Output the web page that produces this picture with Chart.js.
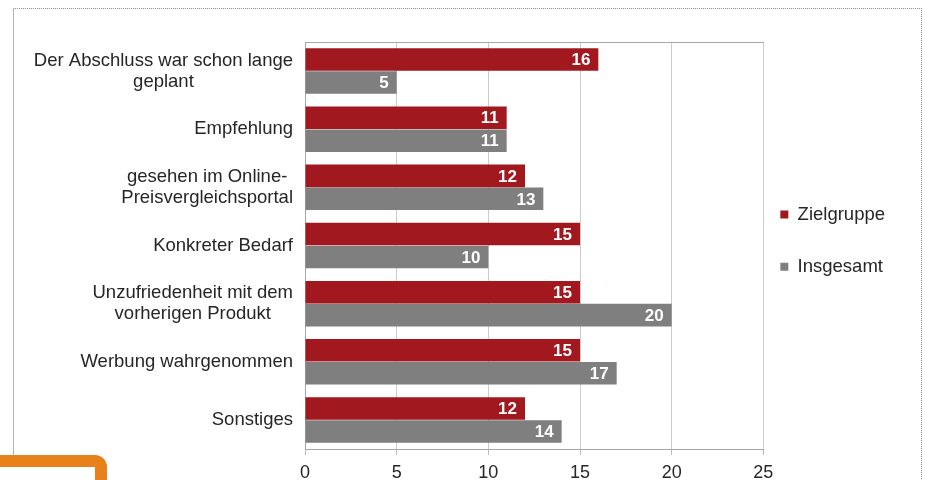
<!DOCTYPE html>
<html><head><meta charset="utf-8">
<script src="https://cdn.jsdelivr.net/npm/chart.js@4.4.1/dist/chart.umd.min.js"></script>
<style>
html,body{margin:0;padding:0;background:#fff;overflow:hidden;}
#wrap{position:relative;width:926px;height:480px;overflow:hidden;}
#frame{position:absolute;left:13px;top:8px;width:907px;height:520px;border-top:1px dotted #8a8a8a;border-right:1px dotted #8a8a8a;border-left:1px solid #b4b4b4;}
#c{position:absolute;left:0;top:0;}
#badge{position:absolute;left:-20px;top:455px;width:103px;height:60px;border:12px solid #E8801C;border-radius:12px;background:#fff;}
</style></head><body>
<div id="wrap"><div id="frame"></div><canvas id="c" width="926" height="480"></canvas><div id="badge"></div></div>
<script>
const categories = [
  ["Der Abschluss war schon lange", "geplant"],
  "Empfehlung",
  ["gesehen im Online-", "Preisvergleichsportal"],
  "Konkreter Bedarf",
  ["Unzufriedenheit mit dem", "vorherigen Produkt"],
  "Werbung wahrgenommen",
  "Sonstiges"
];
const seriesNames = ["Zielgruppe", "Insgesamt"];
const zielgruppe = [16, 11, 12, 15, 15, 15, 12];
const insgesamt = [5, 11, 13, 10, 20, 17, 14];
const xTicks = [0, 5, 10, 15, 20, 25];

const FAMILY = '"Liberation Sans", Arial, sans-serif';
const TEXT = '#262626';
const AXIS = '#a6a6a6';

const catLabelPlugin = {
  id: 'catLabels',
  afterDraw(chart) {
    const ctx = chart.ctx, ys = chart.scales.y;
    ctx.save();
    ctx.font = '18.5px ' + FAMILY;
    ctx.fillStyle = TEXT;
    ctx.textBaseline = 'middle';
    ctx.textAlign = 'center';
    categories.forEach((lab, i) => {
      const lines = Array.isArray(lab) ? lab : [lab];
      const w = Math.max(...lines.map(l => ctx.measureText(l).width));
      const cx = ys.right - 12 - w / 2;
      const cy = ys.getPixelForValue(i);
      lines.forEach((l, j) => ctx.fillText(l, cx, cy + (j - (lines.length - 1) / 2) * 21));
    });
    ctx.restore();
  }
};

const valueLabelPlugin = {
  id: 'valueLabels',
  afterDatasetsDraw(chart) {
    const ctx = chart.ctx;
    ctx.save();
    ctx.font = 'bold 17px ' + FAMILY;
    ctx.fillStyle = '#ffffff';
    ctx.textAlign = 'right';
    ctx.textBaseline = 'middle';
    chart.data.datasets.forEach((ds, di) => {
      chart.getDatasetMeta(di).data.forEach((bar, i) => {
        ctx.fillText(String(ds.data[i]), bar.x - 8, bar.y + 1);
      });
    });
    ctx.restore();
  }
};

new Chart(document.getElementById('c'), {
  type: 'bar',
  data: {
    labels: categories,
    datasets: [
      { label: seriesNames[0], data: zielgruppe, backgroundColor: '#A1181F', borderWidth: 0 },
      { label: seriesNames[1], data: insgesamt, backgroundColor: '#7F7F7F', borderWidth: 0 }
    ]
  },
  options: {
    indexAxis: 'y',
    responsive: false,
    animation: false,
    devicePixelRatio: 1,
    layout: { padding: { top: 20, bottom: 2, left: 0, right: 31 } },
    datasets: { bar: { categoryPercentage: 0.79, barPercentage: 0.98 } },
    scales: {
      x: {
        type: 'linear', position: 'bottom', min: 0, max: 25,
        afterBuildTicks(s) { s.ticks = xTicks.map(v => ({ value: v })); },
        ticks: { color: TEXT, font: { size: 18, family: FAMILY }, padding: 7 },
        grid: { color: '#cccccc', lineWidth: 1, tickLength: 6, drawTicks: true, tickColor: '#bdbdbd' },
        border: { color: AXIS },
        afterFit(s) { s.height = 29; }
      },
      x2: {
        type: 'linear', position: 'top', min: 0, max: 25,
        ticks: { display: false },
        grid: { display: false, drawTicks: false },
        border: { display: true, color: AXIS },
        afterFit(s) { s.height = 22; }
      },
      y: {
        ticks: { display: false },
        grid: { display: false, drawTicks: false },
        border: { color: AXIS },
        afterFit(s) { s.width = 305; }
      }
    },
    plugins: {
      legend: {
        position: 'right',
        labels: {
          boxWidth: 8, boxHeight: 8, padding: 17, color: TEXT,
          font: { size: 18.5, family: FAMILY, lineHeight: 1.9 },
          generateLabels(chart) {
            return Chart.defaults.plugins.legend.labels.generateLabels(chart).map(it => Object.assign(it, { text: [it.text] }));
          }
        }
      },
      tooltip: { enabled: false }
    }
  },
  plugins: [catLabelPlugin, valueLabelPlugin]
});
</script>
</body></html>
